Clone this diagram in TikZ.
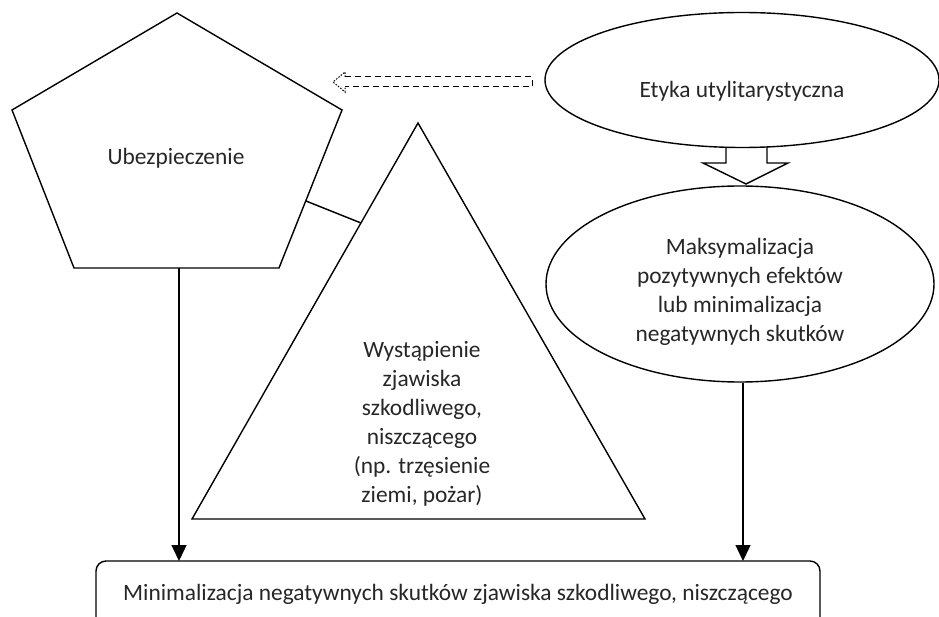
\documentclass[tikz,border=0pt]{standalone}
\usepackage{fontspec}
\setmainfont{Carlito}
\usetikzlibrary{shapes.geometric,arrows.meta,calc}

\begin{document}
\begin{tikzpicture}[x=1pt,y=-1pt,
  shapeline/.style={draw=black, line width=1.4pt, line join=miter},
  txt/.style={font=\fontsize{23.4}{29}\selectfont, align=center, text=black!85, inner sep=0pt},
  flow/.style={-{Triangle[length=16pt,width=15pt]}, draw=black, line width=1.4pt},
  oval/.style={ellipse, draw=black, line width=1.4pt, inner sep=0pt}]
\useasboundingbox (0,0) rectangle (939,617);

% Pentagon: insurance
\coordinate (pT) at (177,13);
\coordinate (pR) at (342,110);
\coordinate (pBR) at (279,268);
\coordinate (pBL) at (74,268);
\coordinate (pL) at (12,110);
\draw[shapeline] (pT) -- (pR) -- (pBR) -- (pBL) -- (pL) -- cycle;
\node[txt] (ubez) at (176,158) {Ubezpieczenie};

% Triangle: harmful event
\coordinate (tA) at (418,123);
\coordinate (tR) at (645,519);
\coordinate (tL) at (192,519);
\draw[shapeline] (tA) -- (tR) -- (tL) -- cycle;
\node[txt] (event) at (422,424) {Wystąpienie\\zjawiska\\szkodliwego,\\niszczącego\\(np. trzęsienie\\ziemi, pożar)};

% Link between pentagon and triangle
\coordinate (linkP) at (306,201);
\coordinate (linkT) at (361,223);
\draw[shapeline] (linkP) -- (linkT);

% Ellipses on the right
\node[oval, minimum width=394pt, minimum height=135pt] (etyka) at (742,80) {};
\node[txt] (etykaT) at (742,91) {Etyka utylitarystyczna};
\node[oval, minimum width=388pt, minimum height=196pt] (maks) at (740,284) {};
\node[txt] (maksT) at (740,292) {Maksymalizacja\\pozytywnych efektów\\lub minimalizacja\\negatywnych skutków};

% Hollow block arrow between the ellipses
\draw[shapeline] (726,147) -- (726,163) -- (703,163) -- (746,184) -- (788,163) -- (767,163) -- (767,147);

% Dashed hollow arrow pointing left
\coordinate (dTail) at (532,82);
\coordinate (dTip) at (333,82);
\draw[line width=1pt, dash pattern=on 6pt off 4pt] (345,77) -- (532,77) -- (532,87) -- (345,87);
\draw[line width=1pt, dash pattern=on 1.5pt off 1.5pt] (345,77) -- (345,72) -- (dTip) -- (345,92) -- (345,87);

% Bottom box: minimising harm
\draw[shapeline, rounded corners=10pt] (96,630) |- (820,561) -- (820,630);
\node[txt] (minim) at (458,594) {Minimalizacja negatywnych skutków zjawiska szkodliwego, niszczącego};

% Flow arrows into the bottom box
\coordinate (inL) at (179,561);
\coordinate (inR) at (743,561);
\draw[flow] (179,268) -- (inL);
\draw[flow] (maks.south -| inR) -- (inR);
\end{tikzpicture}
\end{document}
